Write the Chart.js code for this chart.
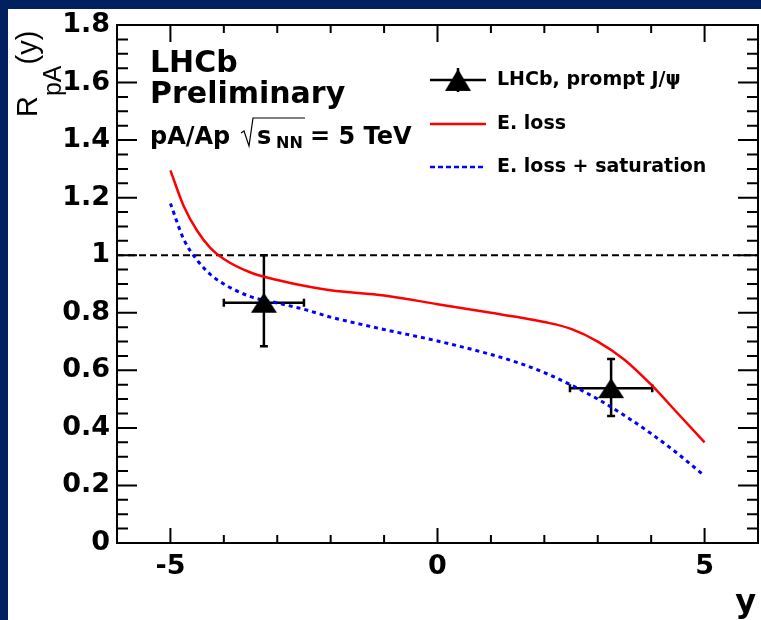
<!DOCTYPE html>
<html>
<head>
<meta charset="utf-8">
<script src="https://cdn.jsdelivr.net/npm/chart.js@4.4.1/dist/chart.umd.min.js"></script>
<style>
  html, body { margin: 0; padding: 0; background: #00205f; width: 761px; height: 620px; overflow: hidden; }
  #panel { position: absolute; left: 8px; top: 9px; width: 753px; height: 611px; background: #fff; }
  canvas { display: block; }
</style>
</head>
<body>
<div id="panel"><canvas id="rpa" width="753" height="611"></canvas></div>
<script>
const rapidity = [-5, -4.75, -4.5, -4.25, -4, -3.5, -3, -2.5, -2, -1, 0, 1, 1.5, 2, 2.5, 3, 3.5, 4, 4.5, 5];
const eLoss    = [1.295, 1.17, 1.085, 1.025, 0.987, 0.94, 0.914, 0.894, 0.878, 0.86, 0.83, 0.80, 0.785, 0.768, 0.744, 0.70, 0.637, 0.55, 0.45, 0.35];
const eLossSat = [1.18, 1.055, 0.983, 0.933, 0.9, 0.856, 0.834, 0.812, 0.785, 0.742, 0.702, 0.655, 0.627, 0.592, 0.549, 0.50, 0.443, 0.38, 0.31, 0.233];

// LHCb prompt J/psi measurement
const pointX = [-3.25, 3.25];
const pointY = [0.835, 0.538];
const pointXErr = [0.75, 0.77];
const pointYErrUp = [0.165, 0.101];
const pointYErrDown = [0.151, 0.097];

// unity reference line
const unityX = [-6, 6];
const unityY = [1, 1];

const xTicks = [-5, 0, 5];
const yTicks = [0, 0.2, 0.4, 0.6, 0.8, 1, 1.2, 1.4, 1.6, 1.8];
const legendLabels = ['LHCb, prompt J/\u03c8', 'E. loss', 'E. loss + saturation'];

// filled triangle marker (ROOT style 22)
const tri = document.createElement('canvas');
tri.width = 26; tri.height = 22;
(() => {
    const c = tri.getContext('2d');
    c.fillStyle = '#000';
    c.beginPath();
    c.moveTo(13, 1);
    c.lineTo(26, 21);
    c.lineTo(0, 21);
    c.closePath();
    c.fill();
})();

const toXY = (xs, ys) => xs.map((x, i) => ({ x: x, y: ys[i] }));

// error bars with end caps
const errorBars = {
    id: 'errorBars',
    beforeDatasetsDraw(chart) {
        const { ctx, scales: { x, y } } = chart;
        ctx.save();
        ctx.strokeStyle = '#000';
        ctx.lineWidth = 2.5;
        const cap = 4;
        pointX.forEach((px, i) => {
            const cx = x.getPixelForValue(px);
            const cy = y.getPixelForValue(pointY[i]);
            const x0 = x.getPixelForValue(px - pointXErr[i]);
            const x1 = x.getPixelForValue(px + pointXErr[i]);
            const y0 = y.getPixelForValue(pointY[i] + pointYErrUp[i]);
            const y1 = y.getPixelForValue(pointY[i] - pointYErrDown[i]);
            ctx.beginPath();
            ctx.moveTo(x0, cy); ctx.lineTo(x1, cy);
            ctx.moveTo(cx, y0); ctx.lineTo(cx, y1);
            ctx.moveTo(x0, cy - cap); ctx.lineTo(x0, cy + cap);
            ctx.moveTo(x1, cy - cap); ctx.lineTo(x1, cy + cap);
            ctx.moveTo(cx - cap, y0); ctx.lineTo(cx + cap, y0);
            ctx.moveTo(cx - cap, y1); ctx.lineTo(cx + cap, y1);
            ctx.stroke();
        });
        ctx.restore();
    }
};

// ROOT style frame with inward ticks on all four sides
const frameTicks = {
    id: 'frameTicks',
    afterDraw(chart) {
        const { ctx, chartArea: a, scales: { x, y } } = chart;
        ctx.save();
        ctx.strokeStyle = '#000';
        ctx.lineWidth = 2;
        ctx.strokeRect(a.left, a.top, a.right - a.left, a.bottom - a.top);
        ctx.beginPath();
        for (let k = 0; k <= 36; k++) {
            const py = y.getPixelForValue(k * 0.05);
            const len = k % 4 === 0 ? 20 : 11;
            ctx.moveTo(a.left, py); ctx.lineTo(a.left + len, py);
            ctx.moveTo(a.right, py); ctx.lineTo(a.right - len, py);
        }
        for (let v = -6; v <= 6; v++) {
            const px = x.getPixelForValue(v);
            const big = v % 5 === 0;
            ctx.moveTo(px, a.bottom); ctx.lineTo(px, a.bottom - (big ? 15 : 8));
            ctx.moveTo(px, a.top); ctx.lineTo(px, a.top + (big ? 17 : 8));
        }
        ctx.stroke();
        ctx.restore();
    }
};

// axis titles, LHCb label and legend
const annotations = {
    id: 'annotations',
    afterDraw(chart) {
        const { ctx } = chart;
        ctx.save();
        ctx.fillStyle = '#000';
        ctx.textBaseline = 'alphabetic';

        // y title, rotated
        ctx.save();
        ctx.translate(29, 108);
        ctx.rotate(-Math.PI / 2);
        ctx.font = '29px "Liberation Sans"';
        ctx.fillText('R', 0, 0);
        let w = ctx.measureText('R').width;
        ctx.font = '25px "Liberation Sans"';
        ctx.fillText('pA', w, 24);
        w += ctx.measureText('pA').width + 1;
        ctx.font = '29px "Liberation Sans"';
        ctx.fillText('(y)', w, 0);
        ctx.restore();

        // x title
        ctx.font = 'bold 32px "DejaVu Sans"';
        ctx.textAlign = 'right';
        ctx.fillText('y', 748, 603);
        ctx.textAlign = 'left';

        // experiment label
        ctx.font = 'bold 30px "DejaVu Sans"';
        ctx.fillText('LHCb', 142, 63);
        ctx.fillText('Preliminary', 142, 94);
        ctx.font = 'bold 24px "DejaVu Sans"';
        ctx.fillText('pA/Ap', 142, 135);
        ctx.fillText('s', 249, 135);
        ctx.fillText('= 5 TeV', 302, 135);
        ctx.font = 'bold 16px "DejaVu Sans"';
        ctx.fillText('NN', 268, 139);
        ctx.lineWidth = 1.2;
        ctx.strokeStyle = '#000';
        ctx.beginPath();
        ctx.moveTo(233, 124);
        ctx.lineTo(236, 122);
        ctx.lineTo(241, 137);
        ctx.lineTo(245, 109);
        ctx.lineTo(297, 109);
        ctx.stroke();

        // legend
        const lx0 = 422, lx1 = 478, tx = 489;
        const rows = [71, 115, 158];
        ctx.lineWidth = 2.5;
        ctx.strokeStyle = '#000';
        ctx.beginPath();
        ctx.moveTo(lx0, rows[0]); ctx.lineTo(lx1, rows[0]);
        ctx.moveTo((lx0 + lx1) / 2, rows[0] - 12); ctx.lineTo((lx0 + lx1) / 2, rows[0] + 12);
        ctx.stroke();
        ctx.drawImage(tri, (lx0 + lx1) / 2 - 13, rows[0] - 12, 26, 24);

        ctx.lineWidth = 2.5;
        ctx.strokeStyle = '#ff0000';
        ctx.beginPath();
        ctx.moveTo(lx0, rows[1]); ctx.lineTo(lx1, rows[1]);
        ctx.stroke();

        ctx.lineWidth = 2.5;
        ctx.strokeStyle = '#0000ff';
        ctx.setLineDash([5, 3]);
        ctx.beginPath();
        ctx.moveTo(lx0, rows[2]); ctx.lineTo(lx1, rows[2]);
        ctx.stroke();
        ctx.setLineDash([]);

        ctx.font = 'bold 19px "DejaVu Sans"';
        ctx.textBaseline = 'middle';
        legendLabels.forEach((t, i) => ctx.fillText(t, tx, rows[i]));
        ctx.restore();
    }
};

const ctx = document.getElementById('rpa').getContext('2d');
new Chart(ctx, {
    type: 'scatter',
    data: {
        datasets: [
            {
                label: legendLabels[0],
                data: toXY(pointX, pointY),
                pointStyle: tri,
                pointRadius: 12,
                showLine: false
            },
            {
                label: legendLabels[1],
                data: toXY(rapidity, eLoss),
                showLine: true,
                borderColor: '#ff0000',
                borderWidth: 2.5,
                pointRadius: 0,
                cubicInterpolationMode: 'monotone'
            },
            {
                label: legendLabels[2],
                data: toXY(rapidity, eLossSat),
                showLine: true,
                borderColor: '#0000ff',
                borderWidth: 3,
                borderDash: [4, 4],
                pointRadius: 0,
                cubicInterpolationMode: 'monotone'
            },
            {
                label: 'unity',
                data: toXY(unityX, unityY),
                showLine: true,
                borderColor: '#000',
                borderWidth: 2,
                borderDash: [7, 4],
                pointRadius: 0
            }
        ]
    },
    options: {
        responsive: false,
        devicePixelRatio: 1,
        animation: false,
        layout: { autoPadding: false, padding: { left: 0, top: 16, right: 3, bottom: 0 } },
        plugins: {
            legend: { display: false },
            tooltip: { enabled: false }
        },
        scales: {
            x: {
                type: 'linear',
                min: -6,
                max: 6,
                afterBuildTicks: s => { s.ticks = xTicks.map(v => ({ value: v })); },
                afterFit: s => { s.height = 77; s.paddingLeft = 0; s.paddingRight = 0; },
                grid: { display: false, drawTicks: false },
                border: { display: false },
                ticks: {
                    color: '#000',
                    padding: 8,
                    maxRotation: 0,
                    font: { family: 'DejaVu Sans', weight: 'bold', size: 27 },
                    callback: v => String(v)
                }
            },
            y: {
                type: 'linear',
                min: 0,
                max: 1.8,
                afterBuildTicks: s => { s.ticks = yTicks.map(v => ({ value: v })); },
                afterFit: s => { s.width = 109; s.paddingTop = 0; s.paddingBottom = 0; },
                grid: { display: false, drawTicks: false },
                border: { display: false },
                ticks: {
                    color: '#000',
                    padding: 7,
                    font: { family: 'DejaVu Sans', weight: 'bold', size: 27 },
                    callback: v => (v === 0 || v === 1) ? String(v) : v.toFixed(1)
                }
            }
        }
    },
    plugins: [errorBars, frameTicks, annotations]
});
</script>
</body>
</html>
